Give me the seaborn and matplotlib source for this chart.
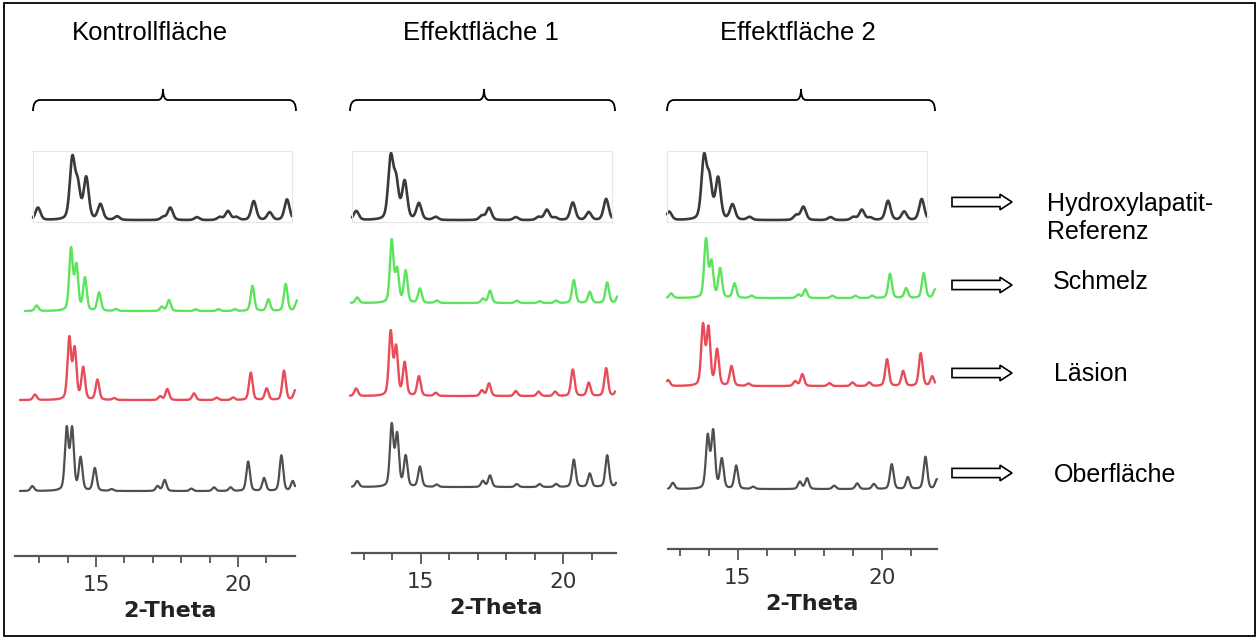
import numpy as np
import pandas as pd
import matplotlib
matplotlib.use("Agg")
import matplotlib.pyplot as plt
import seaborn as sns
from matplotlib.path import Path
from matplotlib.patches import PathPatch, Polygon, Rectangle

# ---------------------------------------------------------------- data
panel_titles = ["Kontrollfläche", "Effektfläche 1", "Effektfläche 2"]
row_names = ["Hydroxylapatit-\nReferenz", "Schmelz", "Läsion", "Oberfläche"]
axis_title = "2-Theta"
tick_positions = [13, 14, 15, 16, 17, 18, 19, 20, 21]
labelled_ticks = [15, 20]

# reflection positions (2-Theta, degrees)
peak_positions = [12.76, 13.97, 14.16, 14.46, 14.96, 15.55, 17.17, 17.42,
                  18.36, 19.16, 19.45, 19.74, 20.36, 20.92, 21.53, 21.93]

# relative reflection intensities per sample and area
kontroll_referenz = [0.21, 1.00, 0.55, 0.70, 0.26, 0.06, 0.05, 0.21,
                     0.05, 0.05, 0.15, 0.05, 0.32, 0.13, 0.35, 0.00]
kontroll_schmelz = [0.09, 1.00, 0.72, 0.53, 0.30, 0.03, 0.07, 0.18,
                    0.03, 0.03, 0.00, 0.03, 0.41, 0.19, 0.44, 0.17]
kontroll_laesion = [0.09, 1.00, 0.82, 0.52, 0.33, 0.03, 0.06, 0.18,
                    0.11, 0.04, 0.00, 0.04, 0.45, 0.19, 0.48, 0.16]
kontroll_oberflaeche = [0.08, 1.00, 0.99, 0.53, 0.37, 0.03, 0.08, 0.18,
                        0.04, 0.06, 0.00, 0.06, 0.48, 0.21, 0.58, 0.16]

effekt1_referenz = [0.15, 1.00, 0.60, 0.62, 0.27, 0.05, 0.07, 0.20,
                    0.05, 0.05, 0.17, 0.04, 0.29, 0.13, 0.35, 0.00]
effekt1_schmelz = [0.09, 1.00, 0.52, 0.51, 0.23, 0.04, 0.07, 0.20,
                   0.04, 0.03, 0.00, 0.04, 0.37, 0.18, 0.33, 0.15]
effekt1_laesion = [0.12, 1.00, 0.75, 0.52, 0.31, 0.05, 0.09, 0.20,
                   0.08, 0.07, 0.00, 0.07, 0.42, 0.21, 0.44, 0.17]
effekt1_oberflaeche = [0.10, 1.00, 0.84, 0.50, 0.33, 0.04, 0.10, 0.19,
                       0.05, 0.05, 0.00, 0.05, 0.45, 0.22, 0.52, 0.16]

effekt2_referenz = [0.14, 1.00, 0.62, 0.68, 0.25, 0.05, 0.08, 0.22,
                    0.05, 0.05, 0.17, 0.04, 0.32, 0.14, 0.35, 0.00]
effekt2_schmelz = [0.08, 1.00, 0.60, 0.50, 0.25, 0.04, 0.06, 0.15,
                   0.04, 0.04, 0.00, 0.04, 0.42, 0.17, 0.43, 0.15]
effekt2_laesion = [0.10, 1.00, 0.95, 0.60, 0.33, 0.04, 0.08, 0.20,
                   0.05, 0.06, 0.00, 0.06, 0.45, 0.25, 0.55, 0.16]
effekt2_oberflaeche = [0.11, 0.92, 1.00, 0.52, 0.41, 0.04, 0.13, 0.19,
                       0.06, 0.10, 0.00, 0.09, 0.44, 0.21, 0.57, 0.17]

intensities = [
    [kontroll_referenz, kontroll_schmelz, kontroll_laesion, kontroll_oberflaeche],
    [effekt1_referenz, effekt1_schmelz, effekt1_laesion, effekt1_oberflaeche],
    [effekt2_referenz, effekt2_schmelz, effekt2_laesion, effekt2_oberflaeche],
]

# ---------------------------------------------------------------- style
sns.set_style("white")
plt.rcParams["font.family"] = ["DejaVu Sans"]

W, H = 1259, 639
fig = plt.figure(figsize=(W / 100, H / 100), dpi=100)
fig.patch.set_facecolor("white")


def px_box(left, top, right, bottom):
    return [left / W, 1 - bottom / H, (right - left) / W, (bottom - top) / H]


# full-figure layer in pixel coordinates for titles, braces and arrows
over = fig.add_axes([0, 0, 1, 1])
over.set_xlim(0, W)
over.set_ylim(H, 0)
over.set_axis_off()
over.patch.set_alpha(0)

over.add_patch(Rectangle((4, 3), 1251, 633, fill=False, ec="black", lw=1.3))

ANCHOR = 13.97  # reflection used to place each trace horizontally
row_colors = ["#3a3a3a", "#5ce45c", "#e84c58", "#4f4f4f"]
row_widths = [1.9, 1.7, 1.7, 1.6]
fwhm = [0.21, 0.15, 0.15, 0.15]

# pixel placement of every trace: left, right, anchor x, baseline y, top y
panel_scale = [28.4, 28.5, 28.8]
trace_layout = [
    [(33, 292, 72.3, 220, 155), (25, 297, 71.0, 311, 247),
     (20, 295, 69.3, 400, 336), (20, 295, 66.7, 491, 426)],
    [(352, 612, 390.7, 220, 153), (351, 617, 391.7, 303, 239),
     (350, 615, 390.7, 396, 330), (352, 616, 391.7, 487, 423)],
    [(667, 927, 704.0, 220, 153), (667, 935, 706.0, 298, 238),
     (667, 935, 703.0, 386, 323), (668, 937, 707.7, 489, 429)],
]
ref_frame_top = 151


def profile(theta, amps, width):
    sig = width / 2.3548
    gam = width / 2.0
    y = np.zeros_like(theta)
    for p, a in zip(peak_positions, amps):
        g = np.exp(-0.5 * ((theta - p) / sig) ** 2)
        lor = 1.0 / (1.0 + ((theta - p) / gam) ** 2)
        y += a * (0.65 * g + 0.35 * lor)
    y -= y.min()
    return y / y.max()


for pi in range(3):
    scale = panel_scale[pi]
    for ri in range(4):
        left, right, anchor_px, base, top = trace_layout[pi][ri]
        lo = ANCHOR - (anchor_px - left) / scale
        hi = ANCHOR + (right - anchor_px) / scale
        if ri == 0:
            yt, yb = ref_frame_top, base + 2
        else:
            yt, yb = top - 10, base + 10
        ax = fig.add_axes(px_box(left, yt, right, yb))
        ax.patch.set_alpha(0)
        span = top - base
        ax.set_xlim(lo, hi)
        ax.set_ylim((yb - base) / span, (yt - base) / span)
        theta = np.linspace(lo, hi, 1600)
        df = pd.DataFrame({"theta": theta,
                           "intensity": profile(theta, intensities[pi][ri], fwhm[ri])})
        sns.lineplot(data=df, x="theta", y="intensity", ax=ax,
                     color=row_colors[ri], lw=row_widths[ri], clip_on=False)
        ax.set_xticks([])
        ax.set_yticks([])
        ax.set_xlabel("")
        ax.set_ylabel("")
        for s in ax.spines.values():
            s.set_visible(ri == 0)
            s.set_color("#e6e6e6")
            s.set_linewidth(0.8)

# 2-Theta axes below each panel: px of 15, px of 20, left, right, axis y, label centre x
axis_layout = [(96.0, 238.0, 15, 295, 556, 170),
               (420.7, 563.3, 352, 616, 553, 496),
               (737.7, 881.7, 668, 937, 549, 812)]
for (p15, p20, left, right, yline, lab_x) in axis_layout:
    sc = (p20 - p15) / 5.0
    ax = fig.add_axes(px_box(left, yline - 1, right, yline))
    ax.patch.set_alpha(0)
    ax.set_xlim(15 - (p15 - left) / sc, 20 + (right - p20) / sc)
    ax.set_yticks([])
    for k in ("top", "left", "right"):
        ax.spines[k].set_visible(False)
    ax.spines["bottom"].set_color("#555555")
    ax.spines["bottom"].set_linewidth(1.6)
    ax.set_xticks(tick_positions)
    ax.set_xticklabels([str(t) if t in labelled_ticks else "" for t in tick_positions])
    ax.tick_params(axis="x", bottom=True, direction="out", length=5, width=1.3,
                   color="#555555", labelsize=15.5, labelcolor="#333333", pad=9)
    for t, tick in zip(tick_positions, ax.xaxis.get_major_ticks()):
        if t in labelled_ticks:
            tick.tick1line.set_markersize(8)
    ax.set_xlabel(axis_title, fontsize=16, fontweight="bold", color="#222222")
    ax.xaxis.set_label_coords(lab_x, yline + 55, transform=over.transData)
    ax.xaxis.label.set_va("center")

# panel titles and braces
title_x = [150, 481, 798]
brace_span = [(33, 296, 163), (350, 615, 484), (667, 935, 801)]
for t, tx in zip(panel_titles, title_x):
    over.text(tx, 33, t, ha="center", va="center", fontsize=18.5,
              family="Liberation Sans", color="black")

for x0, x1, xm in brace_span:
    yb, yh, ytip = 111, 100, 89
    verts = [(x0, yb), (x0, yh), (x0 + 7, yh),
             (xm - 5, yh), (xm - 5, yh), (xm, yh), (xm, ytip),
             (xm, yh), (xm + 5, yh),
             (x1 - 7, yh), (x1, yh), (x1, yb)]
    codes = [Path.MOVETO, Path.CURVE3, Path.CURVE3,
             Path.LINETO, Path.MOVETO, Path.CURVE3, Path.CURVE3,
             Path.CURVE3, Path.CURVE3,
             Path.LINETO, Path.CURVE3, Path.CURVE3]
    over.add_patch(PathPatch(Path(verts, codes), fill=False, ec="black", lw=1.3))

# hollow arrows and row names
arrow_y = [202, 285, 373, 473]
label_pos = [(1047, 218), (1053, 282), (1054, 374), (1054, 475)]
for ay, name, (lx, ly) in zip(arrow_y, row_names, label_pos):
    xs, xh, xt = 952, 1000, 1012
    sh, hh = 4.6, 7.8
    pts = [(xs, ay - sh), (xh, ay - sh), (xh, ay - hh), (xt, ay),
           (xh, ay + hh), (xh, ay + sh), (xs, ay + sh)]
    over.add_patch(Polygon(pts, closed=True, fc="white", ec="black", lw=1.2))
    over.text(lx, ly, name, ha="left", va="center", fontsize=18,
              family="Liberation Sans", color="black", linespacing=1.2)

fig.savefig("out.png", dpi=100, facecolor="white")
